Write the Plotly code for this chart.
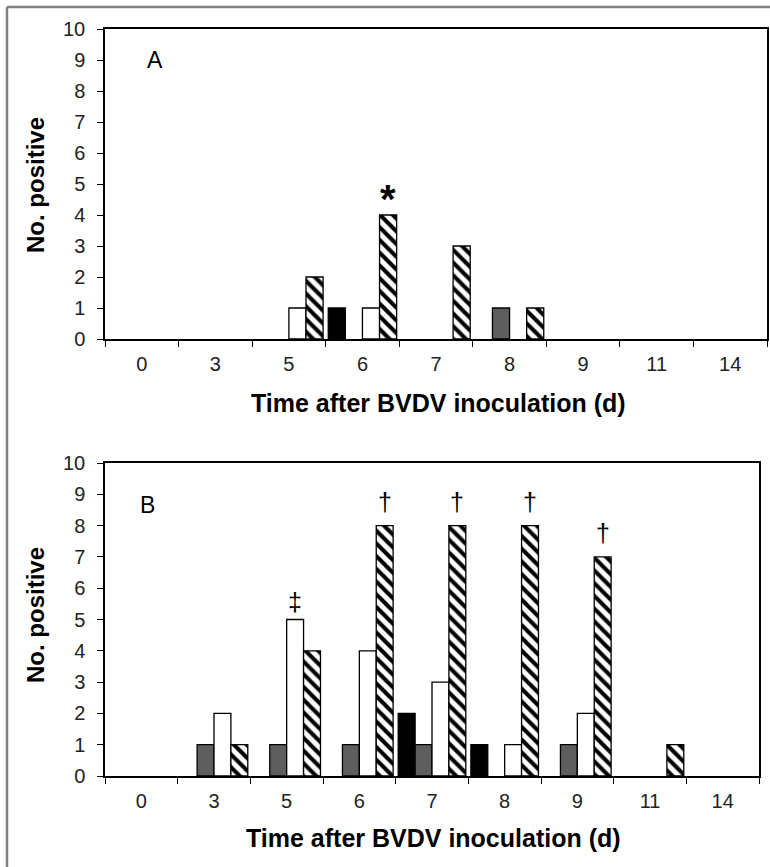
import plotly.graph_objects as go

W, H = 770, 867

days = ["0", "3", "5", "6", "7", "8", "9", "11", "14"]
y_ticks = list(range(0, 11))

# Panel A
a_black   = [0, 0, 0, 1, 0, 0, 0, 0, 0]
a_gray    = [0, 0, 0, 0, 0, 1, 0, 0, 0]
a_white   = [0, 0, 1, 1, 0, 0, 0, 0, 0]
a_hatched = [0, 0, 2, 4, 3, 1, 0, 0, 0]

# Panel B
b_black   = [0, 0, 0, 0, 2, 1, 0, 0, 0]
b_gray    = [0, 1, 1, 1, 1, 0, 1, 0, 0]
b_white   = [0, 2, 5, 4, 3, 1, 2, 0, 0]
b_hatched = [0, 1, 4, 8, 8, 8, 7, 1, 0]

# significance marks: (day, series, symbol)
a_marks = [("6", "hatched", "*")]
b_marks = [("5", "white", "\u2021"), ("6", "hatched", "\u2020"), ("7", "hatched", "\u2020"),
           ("8", "hatched", "\u2020"), ("9", "hatched", "\u2020")]

series_order = ["black", "gray", "white", "hatched"]
FONT = "Liberation Sans, Arial, sans-serif"

fig = go.Figure()

def style(name, vals):
    line = dict(color="black", width=[1.3 if v else 0 for v in vals])
    if name == "black":
        return dict(color="black", line=line)
    if name == "gray":
        return dict(color="#5e5e5e", line=line)
    if name == "white":
        return dict(color="white", line=line)
    return dict(color="white", line=line,
                pattern=dict(shape="\\", fgcolor="black", bgcolor="white",
                             size=9, solidity=0.45, fillmode="replace"))

panels = [
    (dict(black=a_black, gray=a_gray, white=a_white, hatched=a_hatched), a_marks, "x", "y"),
    (dict(black=b_black, gray=b_gray, white=b_white, hatched=b_hatched), b_marks, "x2", "y2"),
]

bargap = 0.07
nser = len(series_order)
bw = (1 - bargap) / nser

annotations = []
for data, marks, xa, ya in panels:
    for s in series_order:
        fig.add_trace(go.Bar(x=days, y=data[s], marker=style(s, data[s]), xaxis=xa, yaxis=ya,
                             name=s, showlegend=False, hoverinfo="skip"))
    for day, s, sym in marks:
        idx = days.index(day)
        k = series_order.index(s)
        off = -(1 - bargap) / 2 + bw * (k + 0.5)
        xd = (idx + 0.5 + off) / len(days)
        val = data[s][idx]
        if sym == "*":
            annotations.append(dict(x=xd, y=val, xref=xa + " domain", yref=ya, text="<b>*</b>",
                                    showarrow=False, xanchor="center", yanchor="middle", yshift=16,
                                    font=dict(family=FONT, size=40, color="black")))
        else:
            annotations.append(dict(x=xd, y=val, xref=xa + " domain", yref=ya, text=sym,
                                    showarrow=False, xanchor="center", yanchor="middle",
                                    yshift=18 if sym == "\u2021" else 24,
                                    font=dict(family=FONT, size=25, color="black")))

def px(x):
    return x / W

def py(y):
    return 1 - y / H

axis_common = dict(showline=True, linecolor="black", linewidth=1.5, mirror=True,
                   showgrid=False, zeroline=False, ticks="outside", ticklen=6,
                   tickcolor="black", tickwidth=1.3, automargin=False,
                   tickfont=dict(family=FONT, size=20, color="#222"))

xa_common = dict(axis_common, type="category", tickson="boundaries", range=[-0.5, 8.5],
                 categoryorder="array", categoryarray=days, ticklabelstandoff=6)
ya_common = dict(axis_common, range=[0, 10], tickvals=y_ticks, ticklabelstandoff=8)

fig.update_layout(
    width=W, height=H, margin=dict(l=0, r=0, t=0, b=0, pad=0, autoexpand=False),
    paper_bgcolor="white", plot_bgcolor="white",
    barmode="group", bargap=bargap, bargroupgap=0,
    xaxis=dict(xa_common, domain=[px(105), px(767)], anchor="y"),
    yaxis=dict(ya_common, domain=[py(339), py(29)], anchor="x"),
    xaxis2=dict(xa_common, domain=[px(105), px(759)], anchor="y2"),
    yaxis2=dict(ya_common, domain=[py(776), py(463)], anchor="x2"),
)

def lab(x, y, text, size, angle=0):
    return dict(x=px(x), y=py(y), xref="paper", yref="paper", text=text, textangle=angle,
                showarrow=False, xanchor="center", yanchor="middle",
                font=dict(family=FONT, size=size, color="black"))

xt = "<b>Time after BVDV inoculation (d)</b>"
annotations += [
    lab(438, 403, xt, 25),
    lab(433, 838, xt, 25),
    lab(35, 185, "<b>No. positive</b>", 24, -90),
    lab(35, 615, "<b>No. positive</b>", 24, -90),
    lab(155, 60, "A", 23),
    lab(147, 505, "B", 23),
]
fig.update_layout(annotations=annotations)

# outer grey frame (left and top edges)
fig.add_shape(type="line", xref="paper", yref="paper", x0=px(7), y0=0, x1=px(7), y1=py(7),
              line=dict(color="#808080", width=2.5))
fig.add_shape(type="line", xref="paper", yref="paper", x0=px(7), y0=py(7), x1=1, y1=py(7),
              line=dict(color="#808080", width=2.5))

fig.write_html("out.html", config={"displayModeBar": False},
               post_script="document.body.style.margin='0';document.body.style.padding='0';")
